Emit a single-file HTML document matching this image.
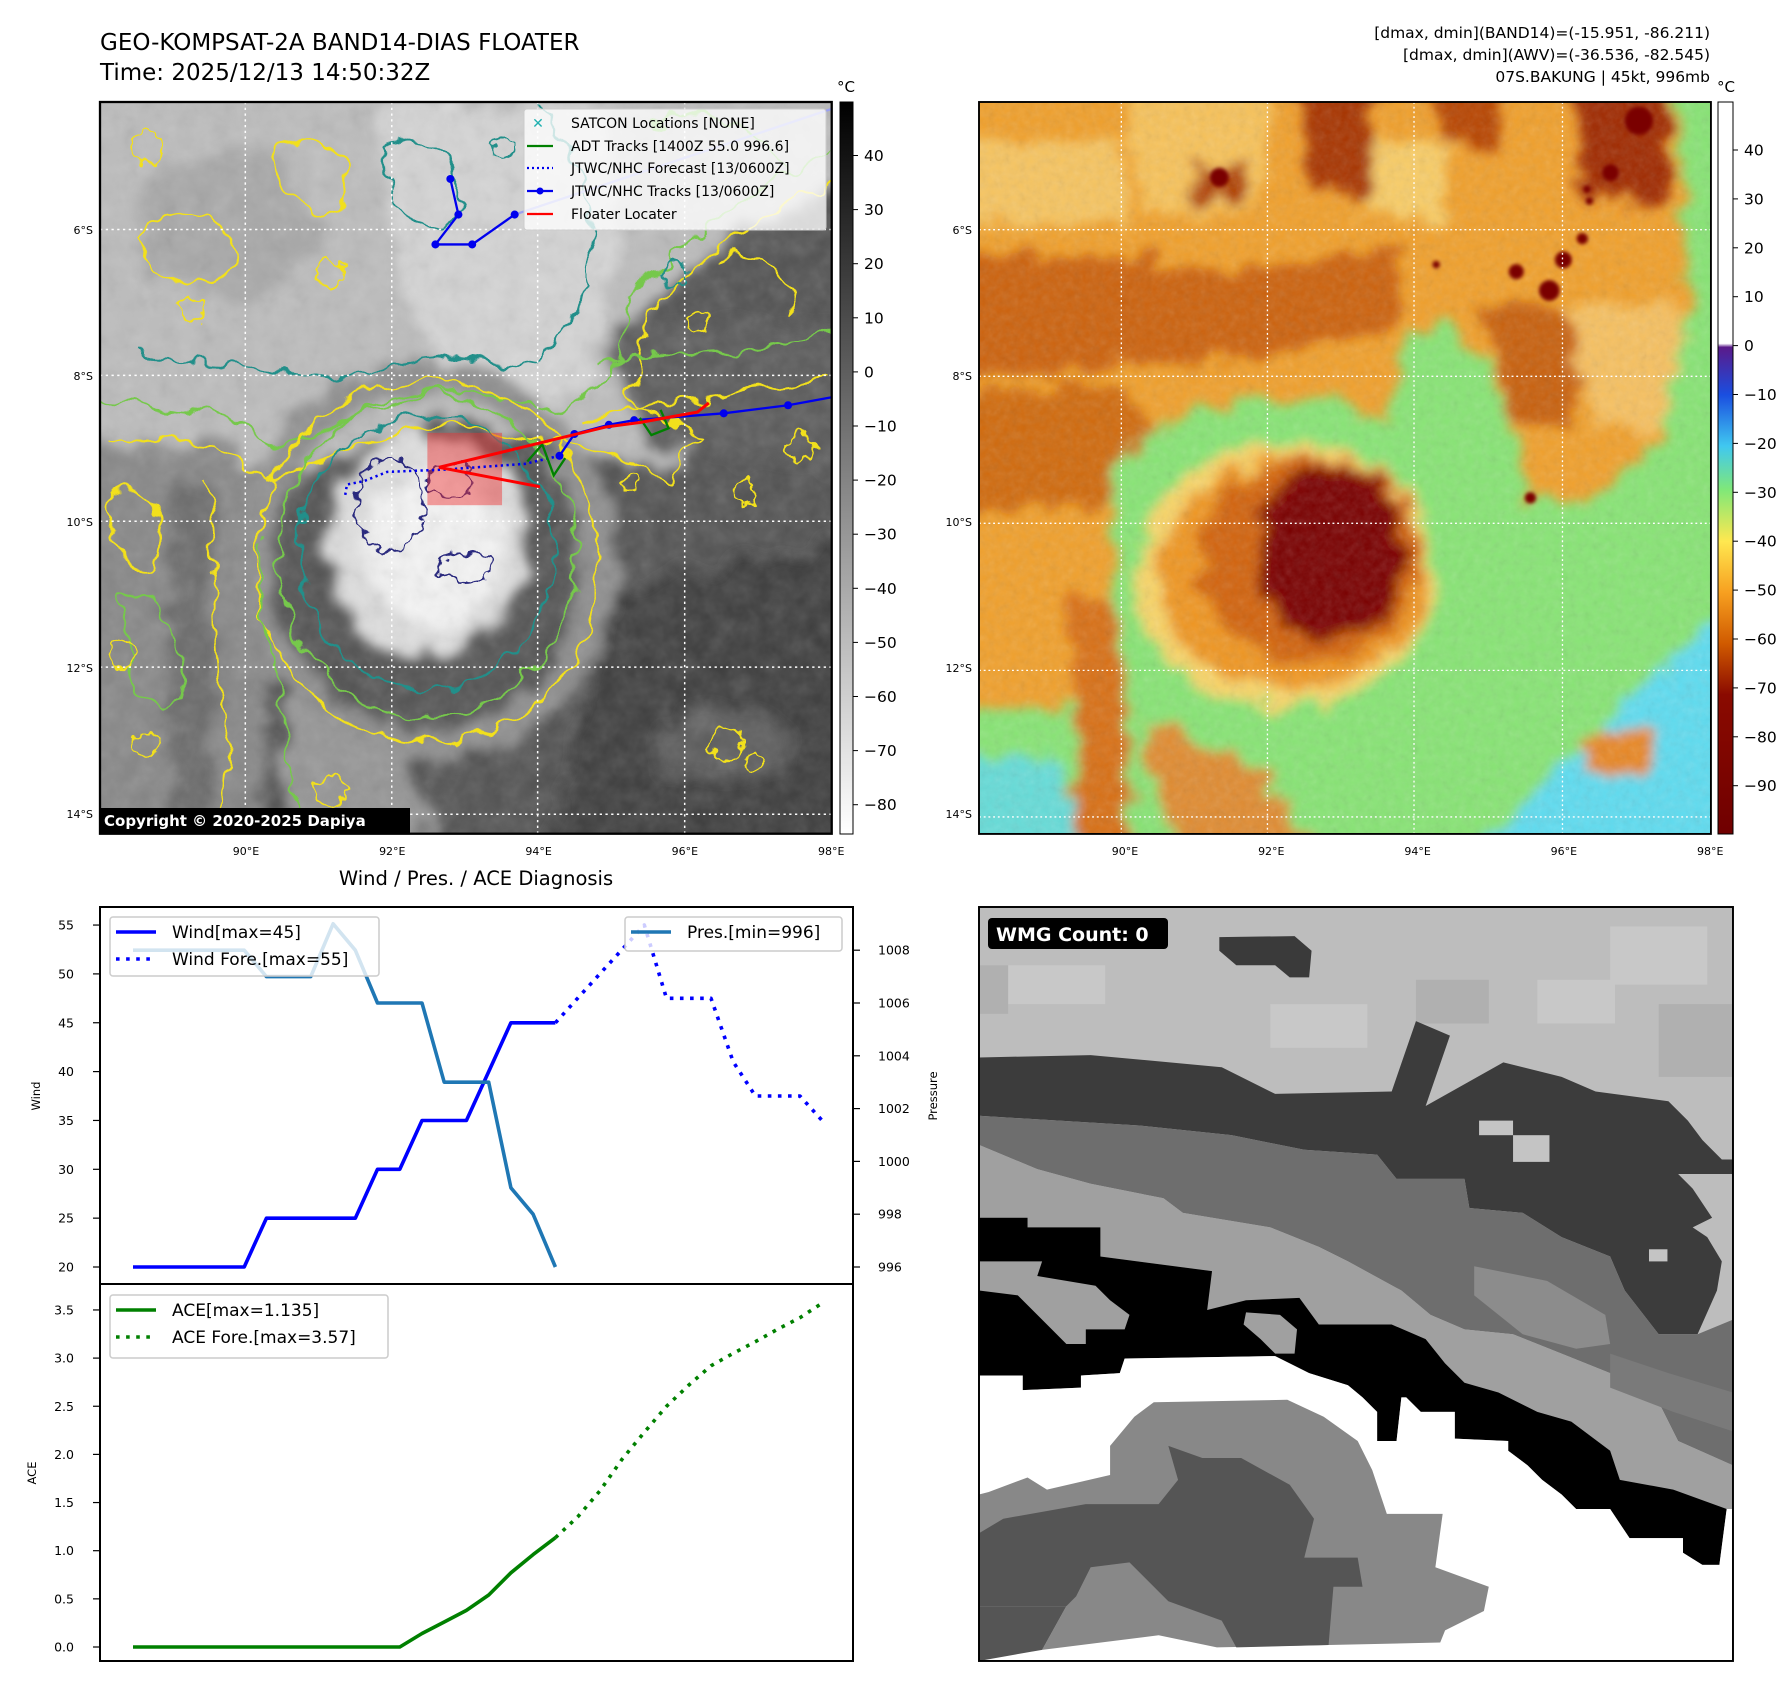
<!DOCTYPE html>
<html><head><meta charset="utf-8"><style>
html,body{margin:0;padding:0;background:#fff;}
svg text{font-family:"DejaVu Sans","Liberation Sans",sans-serif;}
</style></head><body>
<svg id="root" width="1792" height="1690" viewBox="0 0 1792 1690" xmlns="http://www.w3.org/2000/svg">
<defs>
  <filter id="blur4" x="-20%" y="-20%" width="140%" height="140%"><feGaussianBlur stdDeviation="4"/></filter>
  <filter id="orgL" x="-10%" y="-10%" width="120%" height="120%">
    <feTurbulence type="fractalNoise" baseFrequency="0.035" numOctaves="3" seed="2" result="n"/>
    <feDisplacementMap in="SourceGraphic" in2="n" scale="35" xChannelSelector="R" yChannelSelector="G" result="d"/>
    <feGaussianBlur in="d" stdDeviation="5"/>
  </filter>
  <filter id="orgR" x="-10%" y="-10%" width="120%" height="120%">
    <feTurbulence type="fractalNoise" baseFrequency="0.018" numOctaves="4" seed="4" result="n"/>
    <feDisplacementMap in="SourceGraphic" in2="n" scale="80" xChannelSelector="R" yChannelSelector="G" result="d"/>
    <feGaussianBlur in="d" stdDeviation="12"/>
  </filter>
  <filter id="wig" x="-10%" y="-10%" width="120%" height="120%">
    <feTurbulence type="fractalNoise" baseFrequency="0.05" numOctaves="2" seed="3" result="n"/>
    <feDisplacementMap in="SourceGraphic" in2="n" scale="22" xChannelSelector="R" yChannelSelector="G"/>
  </filter>
  <filter id="wig2" x="-10%" y="-10%" width="120%" height="120%">
    <feTurbulence type="fractalNoise" baseFrequency="0.09" numOctaves="2" seed="7" result="n"/>
    <feDisplacementMap in="SourceGraphic" in2="n" scale="16" xChannelSelector="R" yChannelSelector="G"/>
  </filter>
  <filter id="noiseG"><feTurbulence type="fractalNoise" baseFrequency="0.06" numOctaves="3" seed="5"/><feColorMatrix type="saturate" values="0"/></filter>
  <clipPath id="clipMap"><rect x="0" y="0" width="637" height="637"/></clipPath>
  <clipPath id="clipBig"><rect x="0" y="0" width="1553" height="1553"/></clipPath>
  <linearGradient id="cbGray" x1="0" y1="0" x2="0" y2="1"><stop offset="0" stop-color="#000"/><stop offset="1" stop-color="#fff"/></linearGradient>
  <linearGradient id="cbColor" x1="0" y1="0" x2="0" y2="1">
    <stop offset="0" stop-color="#ffffff"/><stop offset="0.33" stop-color="#ffffff"/>
    <stop offset="0.335" stop-color="#5a1a8a"/><stop offset="0.4" stop-color="#1a4ee0"/>
    <stop offset="0.47" stop-color="#40c8f0"/><stop offset="0.53" stop-color="#80e878"/>
    <stop offset="0.6" stop-color="#ffe850"/><stop offset="0.67" stop-color="#f7a020"/>
    <stop offset="0.74" stop-color="#d05a00"/><stop offset="0.81" stop-color="#8a0a00"/>
    <stop offset="1" stop-color="#700000"/>
  </linearGradient>
</defs>

<text x="100" y="50" font-size="23">GEO-KOMPSAT-2A BAND14-DIAS FLOATER</text>
<text x="100" y="80" font-size="23">Time: 2025/12/13 14:50:32Z</text>
<g font-size="15.5" text-anchor="end">
  <text x="1710" y="38">[dmax, dmin](BAND14)=(-15.951, -86.211)</text>
  <text x="1710" y="60">[dmax, dmin](AWV)=(-36.536, -82.545)</text>
  <text x="1710" y="82">07S.BAKUNG | 45kt, 996mb</text>
</g>

<!-- LEFT MAP -->
<g transform="translate(100,102) scale(1.1487)">
 <g clip-path="url(#clipMap)">
  <rect width="637" height="637" fill="#525252"/>
  <g filter="url(#orgL)">
    <path d="M-20,-20 H660 V70 L560,110 L480,180 L460,260 L520,290 L500,330 L420,300 L300,280 L220,300 L150,330 L100,300 L-20,300 Z" fill="#bcbcbc"/>
    <path d="M240,0 H440 L450,120 L430,240 L380,280 L300,250 L260,150 Z" fill="#d4d4d4"/>
    <path d="M30,60 L150,40 L200,120 L120,180 L40,150 Z" fill="#a8a8a8"/>
    <path d="M440,190 L660,200 L660,320 L470,300 Z" fill="#5a5a5a"/>
    <path d="M-20,300 L120,300 L150,360 L140,660 L-20,660 Z" fill="#878787"/>
    <path d="M60,320 L100,330 L95,660 L60,660 Z" fill="#6a6a6a"/>
    <ellipse cx="285" cy="400" rx="150" ry="160" fill="none" stroke="#8e8e8e" stroke-width="30"/>
    <ellipse cx="285" cy="385" rx="88" ry="98" fill="#dedede"/>
    <ellipse cx="292" cy="390" rx="58" ry="68" fill="#f4f4f4"/>
    <path d="M450,420 L660,380 L660,660 L380,660 L420,540 Z" fill="#3e3e3e"/>
    <path d="M160,520 L260,560 L300,660 L150,660 Z" fill="#959595"/>
    <ellipse cx="540" cy="560" rx="60" ry="30" fill="#5c5c5c"/>
  </g>
  <rect width="637" height="637" filter="url(#noiseG)" opacity="0.22"/>
  <g fill="none" stroke-width="2" filter="url(#wig)">
    <path d="M0,290 L100,300 L150,330 L220,300 L300,280 L420,300 L500,330 L520,290 L460,260 L480,180 L560,110 L637,70" stroke="#f2e01c"/>
    <path d="M0,260 L100,270 L160,300 L230,270 L310,250 L400,270 L450,240 L460,170 L540,100 L637,40" stroke="#76c84c"/>
    <path d="M30,220 L120,230 L200,240 L300,220 L380,230 L430,160 L420,60 L380,0" stroke="#238f8a"/>
    <ellipse cx="285" cy="400" rx="150" ry="158" stroke="#f2e01c"/>
    <ellipse cx="285" cy="395" rx="130" ry="140" stroke="#76c84c"/>
    <ellipse cx="285" cy="392" rx="110" ry="120" stroke="#238f8a"/>
    <path d="M140,380 C130,450 170,520 170,637" stroke="#76c84c"/>
    <path d="M30,120 C60,80 110,90 120,140 C100,170 50,160 30,120 Z" stroke="#f2e01c"/>
    <path d="M150,40 C190,20 230,50 210,90 C180,110 150,80 150,40 Z" stroke="#f2e01c"/>
    <path d="M250,40 C290,20 330,60 310,100 C280,120 240,90 250,40 Z" stroke="#238f8a"/>
    <path d="M480,20 C520,0 580,20 600,60" stroke="#76c84c"/>
    <path d="M540,140 C570,120 610,150 600,190" stroke="#f2e01c"/>
    <path d="M420,280 C480,250 520,270 560,250 L637,240" stroke="#f2e01c"/>
    <path d="M430,230 C490,210 560,230 637,200" stroke="#76c84c"/>
    <path d="M10,340 C40,330 60,360 50,400 C30,420 10,400 10,340 Z" stroke="#f2e01c"/>
    <path d="M20,430 C50,420 80,470 70,520 C40,540 20,500 20,430 Z" stroke="#76c84c"/>
    <path d="M90,330 C110,380 90,460 110,540 C120,580 100,610 110,637" stroke="#f2e01c"/>
  </g>
  <g fill="none" stroke-width="1.8" filter="url(#wig2)">
    <circle cx="40" cy="40" r="14" stroke="#f2e01c"/><circle cx="80" cy="180" r="12" stroke="#f2e01c"/>
    <circle cx="200" cy="150" r="12" stroke="#f2e01c"/><circle cx="350" cy="40" r="10" stroke="#238f8a"/>
    <circle cx="500" cy="150" r="10" stroke="#238f8a"/><circle cx="520" cy="190" r="9" stroke="#f2e01c"/>
    <circle cx="560" cy="340" r="10" stroke="#f2e01c"/><circle cx="610" cy="300" r="12" stroke="#f2e01c"/>
    <circle cx="545" cy="560" r="14" stroke="#f2e01c"/><circle cx="570" cy="575" r="7" stroke="#f2e01c"/>
    <circle cx="20" cy="480" r="12" stroke="#f2e01c"/><circle cx="40" cy="560" r="10" stroke="#f2e01c"/>
    <circle cx="200" cy="600" r="14" stroke="#f2e01c"/><circle cx="460" cy="330" r="7" stroke="#f2e01c"/>
    <ellipse cx="252" cy="350" rx="30" ry="40" stroke="#2b2a7e"/>
    <ellipse cx="305" cy="330" rx="20" ry="15" stroke="#2b2a7e"/>
    <ellipse cx="318" cy="405" rx="24" ry="12" stroke="#2b2a7e"/>
  </g>
  <g stroke="#fff" stroke-width="1.3" stroke-dasharray="2,3">
    <line x1="126.5" y1="0" x2="126.5" y2="637"/><line x1="254" y1="0" x2="254" y2="637"/>
    <line x1="381" y1="0" x2="381" y2="637"/><line x1="509" y1="0" x2="509" y2="637"/>
    <line x1="0" y1="111" x2="637" y2="111"/><line x1="0" y1="238" x2="637" y2="238"/>
    <line x1="0" y1="365" x2="637" y2="365"/><line x1="0" y1="492" x2="637" y2="492"/>
    <line x1="0" y1="620" x2="637" y2="620"/>
  </g>
  <rect x="285" y="288" width="65" height="63" fill="#f03030" opacity="0.45"/>
  <polyline points="361,98 637,6" fill="none" stroke="#9aa0f0" stroke-width="2"/>
  <polyline points="305,67 312,98 292,124 324,124 361,98" fill="none" stroke="#0000ee" stroke-width="2"/>
  <g fill="#0000ee"><circle cx="305" cy="67" r="3.5"/><circle cx="312" cy="98" r="3.5"/><circle cx="292" cy="124" r="3.5"/><circle cx="324" cy="124" r="3.5"/><circle cx="361" cy="98" r="3.5"/></g>
  <polyline points="400,308 413,289 443,281 465,277 543,271 599,264 637,257" fill="none" stroke="#0000ee" stroke-width="2"/>
  <g fill="#0000ee"><circle cx="400" cy="308" r="3.5"/><circle cx="413" cy="289" r="3.5"/><circle cx="443" cy="281" r="3.5"/><circle cx="465" cy="277" r="3.5"/><circle cx="543" cy="271" r="3.5"/><circle cx="599" cy="264" r="3.5"/></g>
  <polyline points="400,308 370,315 300,320 250,322 230,330 215,333 213,345" fill="none" stroke="#0000ee" stroke-width="2.2" stroke-dasharray="2,3"/>
  <polyline points="372,313 385,298 395,325 405,310" fill="none" stroke="#008000" stroke-width="2"/>
  <polyline points="470,275 480,290 495,284 488,268" fill="none" stroke="#008000" stroke-width="2"/>
  <polyline points="295,318 370,300 440,283 470,279 520,270 530,262" fill="none" stroke="#ff0000" stroke-width="2.6"/>
  <polyline points="295,318 383,335" fill="none" stroke="#ff0000" stroke-width="2.6"/>
 </g>
 <rect width="637" height="637" fill="none" stroke="#000" stroke-width="2"/>
</g>
<g>
  <rect x="524" y="109" width="302" height="121" rx="3" fill="#fff" fill-opacity="0.78" stroke="#ccc"/>
  <text x="538" y="128" font-size="14" fill="#20b0b0" font-weight="bold" text-anchor="middle">✕</text>
  <text x="571" y="128" font-size="14">SATCON Locations [NONE]</text>
  <line x1="527" y1="146" x2="553" y2="146" stroke="#008000" stroke-width="2.2"/>
  <text x="571" y="151" font-size="14">ADT Tracks [1400Z 55.0 996.6]</text>
  <line x1="527" y1="168" x2="553" y2="168" stroke="#0000ee" stroke-width="2.2" stroke-dasharray="2,3"/>
  <text x="571" y="173" font-size="14">JTWC/NHC Forecast [13/0600Z]</text>
  <line x1="527" y1="191" x2="553" y2="191" stroke="#0000ee" stroke-width="2.2"/><circle cx="540" cy="191" r="3.5" fill="#0000ee"/>
  <text x="571" y="196" font-size="14">JTWC/NHC Tracks [13/0600Z]</text>
  <line x1="527" y1="214" x2="553" y2="214" stroke="#ff0000" stroke-width="2.2"/>
  <text x="571" y="219" font-size="14">Floater Locater</text>
</g>
<g>
  <rect x="101" y="808" width="309" height="25" fill="#000"/>
  <text x="104" y="826" font-size="15" font-weight="bold" fill="#fff">Copyright © 2020-2025 Dapiya</text>
</g>

<!-- RIGHT MAP -->
<g transform="translate(979,102) scale(0.4713)">
 <g clip-path="url(#clipBig)">
  <rect width="1553" height="1553" fill="#f0a02c"/>
  <g filter="url(#orgR)">
    <path d="M-50,80 L300,90 L320,260 L-50,270 Z" fill="#f6c460"/>
    <path d="M300,-50 L620,-50 L600,240 L340,230 Z" fill="#f7c25a"/>
    <path d="M800,80 L1000,100 L980,260 L820,250 Z" fill="#f8cc66"/>
    <path d="M680,-50 L840,-50 L830,190 L700,190 Z" fill="#a83400"/>
    <path d="M960,-50 L1110,-50 L1100,100 L980,100 Z" fill="#b84400"/>
    <path d="M1260,-50 L1470,-50 L1460,220 L1280,210 Z" fill="#a02a00"/>
    <path d="M450,130 L570,130 L570,210 L450,210 Z" fill="#b04000"/>
    <path d="M-50,320 L300,330 L620,360 L880,300 L900,480 L620,540 L300,560 L-50,600 Z" fill="#cc6208"/>
    <path d="M-50,620 L300,600 L420,720 L300,860 L-50,860 Z" fill="#d06a10"/>
    <path d="M1050,420 L1300,440 L1260,700 L1130,680 Z" fill="#c86010"/>
    <path d="M1250,420 L1500,440 L1500,700 L1300,700 Z" fill="#f6c060"/>
    <path d="M280,760 L460,650 L620,620 L760,640 L870,680 L900,500 L1000,470 L1080,560 L1130,680 L1160,850 L1300,840 L1450,720 L1510,450 L1480,-50 L1600,-50 L1600,1600 L-50,1600 L-50,1300 L200,1280 L290,1000 Z" fill="#88e474"/>
    <path d="M1600,1050 L1600,1600 L1050,1600 L1300,1350 Z" fill="#5edcf0"/>
    <path d="M-50,1380 L180,1400 L220,1600 L-50,1600 Z" fill="#66dcd8"/>
    <path d="M200,1050 L300,1060 L320,1600 L200,1600 Z" fill="#d87018"/>
    <path d="M340,1300 L600,1420 L720,1600 L420,1600 Z" fill="#e08c30"/>
    <path d="M1280,1340 L1420,1330 L1430,1420 L1300,1430 Z" fill="#e88828"/>
    <ellipse cx="650" cy="1005" rx="320" ry="275" fill="#f8d468"/>
    <ellipse cx="665" cy="1000" rx="290" ry="245" fill="#ef9624"/>
    <ellipse cx="705" cy="970" rx="235" ry="215" fill="#d26410"/>
    <ellipse cx="745" cy="960" rx="160" ry="190" fill="#8a0800"/>
    <ellipse cx="750" cy="960" rx="135" ry="170" fill="#7a0000"/>
  </g>
  <rect width="1553" height="1553" filter="url(#noiseG)" opacity="0.18"/>
  <g fill="#7a0000" filter="url(#blur4)">
    <circle cx="1210" cy="400" r="22"/><circle cx="1240" cy="335" r="18"/><circle cx="1280" cy="290" r="12"/>
    <circle cx="1340" cy="150" r="18"/><circle cx="1295" cy="210" r="8"/><circle cx="1290" cy="185" r="8"/>
    <circle cx="1170" cy="840" r="12"/><circle cx="970" cy="345" r="8"/><circle cx="510" cy="160" r="20"/>
    <circle cx="1140" cy="360" r="16"/><circle cx="1400" cy="40" r="30"/>
  </g>
  <g stroke="#fff" stroke-width="2.8" stroke-dasharray="4,6">
    <line x1="302" y1="0" x2="302" y2="1553"/><line x1="612" y1="0" x2="612" y2="1553"/>
    <line x1="923" y1="0" x2="923" y2="1553"/><line x1="1238" y1="0" x2="1238" y2="1553"/>
    <line x1="0" y1="271" x2="1553" y2="271"/><line x1="0" y1="582" x2="1553" y2="582"/>
    <line x1="0" y1="894" x2="1553" y2="894"/><line x1="0" y1="1206" x2="1553" y2="1206"/>
    <line x1="0" y1="1517" x2="1553" y2="1517"/>
  </g>
 </g>
 <rect width="1553" height="1553" fill="none" stroke="#000" stroke-width="4"/>
</g>

<g>
  <rect x="840" y="102" width="13" height="732" fill="url(#cbGray)" stroke="#000" stroke-width="1"/>
  <text x="846" y="92" font-size="15" text-anchor="middle">°C</text>
  <g id="cb1ticks" font-size="15.5"></g>
</g>
<g>
  <rect x="1718" y="102" width="15" height="732" fill="url(#cbColor)" stroke="#000" stroke-width="1"/>
  <text x="1726" y="92" font-size="15" text-anchor="middle">°C</text>
  <g id="cb2ticks" font-size="15.5"></g>
</g>
<g id="mapLabels" font-size="11"></g>

<text x="476" y="885" font-size="19.5" text-anchor="middle">Wind / Pres. / ACE Diagnosis</text>
<g id="chart"></g>

<g transform="translate(979,907) scale(0.4855)">
 <g clip-path="url(#clipBig)">
  <rect width="1553" height="1553" fill="#bdbdbd"/>
  <g fill="#c8c8c8"><rect x="60" y="120" width="200" height="80"/><rect x="600" y="200" width="200" height="90"/><rect x="1150" y="150" width="160" height="90"/><rect x="1300" y="40" width="200" height="120"/></g>
  <g fill="#b0b0b0"><rect x="0" y="120" width="60" height="100"/><rect x="900" y="150" width="150" height="90"/><rect x="1400" y="200" width="153" height="150"/></g>
  <path d="M495,62 L650,60 L685,90 L680,145 L640,145 L610,120 L530,120 L495,90 Z" fill="#3a3a3a"/>
  <path d="M0,310 L230,305 L500,330 L610,385 L850,380 L900,235 L970,265 L920,410 L1080,320 L1200,350 L1270,380 L1420,400 L1460,440 L1490,480 L1530,520 L1553,520 L1553,550 L1440,550 L1470,580 L1510,640 L1470,660 L1500,680 L1530,730 L1520,790 L1480,880 L1400,880 L1330,790 L1300,720 L1200,680 L1120,630 L1010,620 L1000,560 L860,560 L820,510 L670,500 L520,470 L330,450 L0,430 Z" fill="#3c3c3c"/>
  <path d="M0,430 L330,450 L520,470 L670,500 L820,510 L860,560 L1000,560 L1010,620 L1120,630 L1200,680 L1300,720 L1330,790 L1400,880 L1480,880 L1553,850 L1553,1150 L1440,1100 L1400,1020 L1300,960 L1200,920 L1100,880 L1000,870 L930,840 L870,790 L760,730 L700,700 L600,660 L420,630 L380,600 L230,570 L120,540 L0,490 Z" fill="#6e6e6e"/>
  <path d="M1020,740 L1170,770 L1290,840 L1300,900 L1230,910 L1120,880 L1020,800 Z" fill="#8c8c8c"/>
  <rect x="1030" y="440" width="70" height="30" fill="#c4c4c4"/><rect x="1100" y="470" width="75" height="55" fill="#c4c4c4"/><rect x="1380" y="705" width="38" height="25" fill="#c4c4c4"/>
  <path d="M0,490 L120,540 L230,570 L380,600 L420,630 L600,660 L700,700 L760,730 L870,790 L930,840 L1000,870 L1100,880 L1200,920 L1300,960 L1400,1020 L1440,1100 L1553,1150 L1553,1240 L1530,1240 L1430,1200 L1320,1180 L1300,1120 L1220,1060 L1150,1040 L1070,1000 L1000,980 L960,940 L920,890 L850,860 L700,860 L660,805 L550,810 L470,830 L480,750 L250,720 L250,660 L100,660 L100,640 L0,640 Z" fill="#a0a0a0"/>
  <path d="M1300,920 L1420,960 L1553,1000 L1553,1080 L1430,1040 L1300,990 Z" fill="#7a7a7a"/>
  <path d="M0,640 L100,640 L100,660 L250,660 L250,720 L480,750 L470,830 L550,810 L660,805 L700,860 L850,860 L920,890 L960,940 L1000,980 L1070,1000 L1150,1040 L1220,1060 L1300,1120 L1320,1180 L1430,1200 L1540,1240 L1525,1355 L1490,1355 L1450,1330 L1450,1300 L1340,1300 L1300,1240 L1230,1240 L1200,1210 L1160,1180 L1130,1150 L1090,1120 L1090,1100 L980,1095 L980,1040 L910,1040 L880,1010 L870,1010 L860,1100 L820,1100 L820,1040 L790,1010 L760,985 L680,960 L610,925 L300,930 L290,960 L210,965 L210,990 L90,995 L90,965 L0,965 Z" fill="#000"/>
  <path d="M0,730 L130,730 L120,760 L240,780 L270,810 L310,840 L300,870 L220,870 L220,900 L180,900 L150,870 L80,800 L0,790 Z" fill="#a0a0a0"/>
  <path d="M550,835 L620,840 L655,870 L650,920 L610,920 L580,890 L545,860 Z" fill="#a0a0a0"/>
  <path d="M0,965 L90,965 L90,995 L210,990 L210,965 L290,960 L300,930 L610,925 L680,960 L760,985 L790,1010 L820,1040 L820,1100 L860,1100 L870,1010 L880,1010 L910,1040 L980,1040 L980,1095 L1090,1100 L1090,1120 L1130,1150 L1160,1180 L1200,1210 L1230,1240 L1300,1240 L1340,1300 L1450,1300 L1450,1330 L1490,1355 L1525,1355 L1540,1240 L1553,1240 L1553,1553 L0,1553 Z" fill="#fff"/>
  <path d="M270,1110 L320,1050 L360,1020 L635,1015 L710,1050 L780,1100 L810,1160 L840,1250 L955,1250 L940,1360 L1050,1400 L1040,1450 L960,1490 L950,1515 L720,1520 L490,1525 L370,1500 L130,1530 L180,1440 L0,1440 L0,1210 L20,1205 L100,1175 L140,1200 L270,1170 Z" fill="#888"/>
  <path d="M390,1110 L460,1135 L540,1135 L640,1190 L690,1260 L670,1340 L780,1340 L790,1400 L730,1400 L720,1520 L530,1525 L500,1470 L390,1430 L310,1350 L230,1360 L200,1420 L180,1440 L0,1440 L0,1290 L50,1260 L220,1230 L370,1230 L410,1180 Z" fill="#555"/>
  <path d="M0,1440 L180,1440 L130,1530 L0,1553 Z" fill="#555"/>
 </g>
 <rect width="1553" height="1553" fill="none" stroke="#000" stroke-width="4"/>
</g>
<g>
  <rect x="988" y="918" width="180" height="31" rx="4" fill="#000"/>
  <text x="996" y="941" font-size="19" font-weight="bold" fill="#fff">WMG Count: 0</text>
</g>

<script>
const windObs = [20,20,20,20,20,20,25,25,25,25,25,30,30,35,35,35,40,45,45,45];
const windFore = [45,47.5,50,52.5,55,47.5,47.5,47.5,41,37.5,37.5,37.5,35];
const presObs = [1008,1008,1008,1008,1008,1008,1007,1007,1007,1009,1008,1006,1006,1006,1003,1003,1003,999,998,996];
const aceObs = [0,0,0,0,0,0,0,0,0,0,0,0,0,0.14,0.26,0.38,0.54,0.77,0.96,1.135];
const aceFore = [1.135,1.35,1.62,1.95,2.23,2.5,2.72,2.92,3.05,3.17,3.3,3.42,3.57];
const windTicks = [20,25,30,35,40,45,50,55];
const presTicks = [996,998,1000,1002,1004,1006,1008];
const aceTicks = [0,0.5,1,1.5,2,2.5,3,3.5];
const irTicks = [40,30,20,10,0,-10,-20,-30,-40,-50,-60,-70,-80];
const awvTicks = [40,30,20,10,0,-10,-20,-30,-40,-50,-60,-70,-80,-90];
const lonLabels = ["90°E","92°E","94°E","96°E","98°E"];
const latLabels = ["6°S","8°S","10°S","12°S","14°S"];

const NS = "http://www.w3.org/2000/svg";
function mk(tag, attrs, parent){ const e=document.createElementNS(NS,tag); for(const k in attrs) e.setAttribute(k,attrs[k]); parent.appendChild(e); return e; }
const xIdx = i => 133 + i*22.23;
const yWind = v => 1267 - (v-20)*9.77;
const yPres = v => 1267 - (v-996)*26.4;
const yAce = v => 1647 - v*96.3;
const chart = document.getElementById('chart');

function line(vals, off, yf, color, dash, name){
  const pts = vals.map((v,i)=> xIdx(i+off).toFixed(1)+','+yf(v).toFixed(1)).join(' ');
  const p = mk('polyline',{points:pts,fill:'none',stroke:color,'stroke-width':3.6,'stroke-linejoin':'round'},chart);
  if(dash) p.setAttribute('stroke-dasharray',dash);
  
  
}
const f1 = mk('rect',{x:100,y:907,width:753,height:377,fill:'none',stroke:'#000','stroke-width':2},chart);


const f2 = mk('rect',{x:100,y:1284,width:753,height:377,fill:'none',stroke:'#000','stroke-width':2},chart);



windTicks.forEach(t=>{ const y=yWind(t); mk('line',{x1:93,y1:y,x2:100,y2:y,stroke:'#000','stroke-width':1.2},chart);
  const tx=mk('text',{x:74,y:y+4.5,'font-size':12.5,'text-anchor':'end'},chart); tx.textContent=t;
  
   });
presTicks.forEach(t=>{ const y=yPres(t); mk('line',{x1:853,y1:y,x2:860,y2:y,stroke:'#000','stroke-width':1.2},chart);
  const tx=mk('text',{x:878,y:y+4.5,'font-size':12.5},chart); tx.textContent=t;
  
   });
aceTicks.forEach(t=>{ const y=yAce(t); mk('line',{x1:93,y1:y,x2:100,y2:y,stroke:'#000','stroke-width':1.2},chart);
  const tx=mk('text',{x:74,y:y+4.5,'font-size':12.5,'text-anchor':'end'},chart); tx.textContent=t.toFixed(1);
  
   });
let yl=mk('text',{x:0,y:0,'font-size':11.5,'text-anchor':'middle',transform:'translate(40,1096) rotate(-90)'},chart); yl.textContent='Wind';


yl=mk('text',{x:0,y:0,'font-size':11.5,'text-anchor':'middle',transform:'translate(937,1096) rotate(-90)'},chart); yl.textContent='Pressure';


yl=mk('text',{x:0,y:0,'font-size':11.5,'text-anchor':'middle',transform:'translate(36,1473) rotate(-90)'},chart); yl.textContent='ACE';



line(windObs,0,yWind,'#0000ff',null,'wind-line');
line(windFore,19,yWind,'#0000ff','3.6,6.5','wind-forecast-line');
line(presObs,0,yPres,'#1f77b4',null,'pressure-line');
line(aceObs,0,yAce,'#008000',null,'ace-line');
line(aceFore,19,yAce,'#008000','3.6,6.5','ace-forecast-line');

function legend(x,y,w,h,items,name){
  const g=mk('g',{},chart);
  
  
  mk('rect',{x:x,y:y,width:w,height:h,rx:3,fill:'#fff','fill-opacity':0.8,stroke:'#ccc','stroke-width':1.5},g);
  items.forEach((it,k)=>{ const yy=y+20+k*27;
    const l=mk('line',{x1:x+6,y1:yy-5,x2:x+46,y2:yy-5,stroke:it[1],'stroke-width':3.6},g);
    if(it[2]) l.setAttribute('stroke-dasharray',it[2]);
    const t=mk('text',{x:x+62,y:yy+1,'font-size':17},g); t.textContent=it[0]; });
}
legend(110,917,269,59,[['Wind[max=45]','#0000ff'],['Wind Fore.[max=55]','#0000ff','3.6,6.5']],'wind-legend');
legend(625,917,217,34,[['Pres.[min=996]','#1f77b4']],'pressure-legend');
legend(110,1295,278,63,[['ACE[max=1.135]','#008000'],['ACE Fore.[max=3.57]','#008000','3.6,6.5']],'ace-legend');

const cb1=document.getElementById('cb1ticks');
irTicks.forEach(t=>{ const y=155.5+(40-t)*5.41; mk('line',{x1:853,y1:y,x2:858,y2:y,stroke:'#000'},cb1);
  const tx=mk('text',{x:864,y:y+5.5},cb1); tx.textContent=(t<0?'\u2212'+(-t):t);
  
   });
const cb2=document.getElementById('cb2ticks');
awvTicks.forEach(t=>{ const y=150+(40-t)*4.89; mk('line',{x1:1733,y1:y,x2:1738,y2:y,stroke:'#000'},cb2);
  const tx=mk('text',{x:1744,y:y+5.5},cb2); tx.textContent=(t<0?'\u2212'+(-t):t);
  
   });

const ml=document.getElementById('mapLabels');
[100,979].forEach(x0=>{
  lonLabels.forEach((s,i)=>{ const t=mk('text',{x:x0+146+i*146.3,y:855,'text-anchor':'middle'},ml); t.textContent=s;
    
     });
  latLabels.forEach((s,i)=>{ const t=mk('text',{x:x0-7,y:234+i*146,'text-anchor':'end'},ml); t.textContent=s;
    
     });
});
</script>
</svg>
</body></html>
